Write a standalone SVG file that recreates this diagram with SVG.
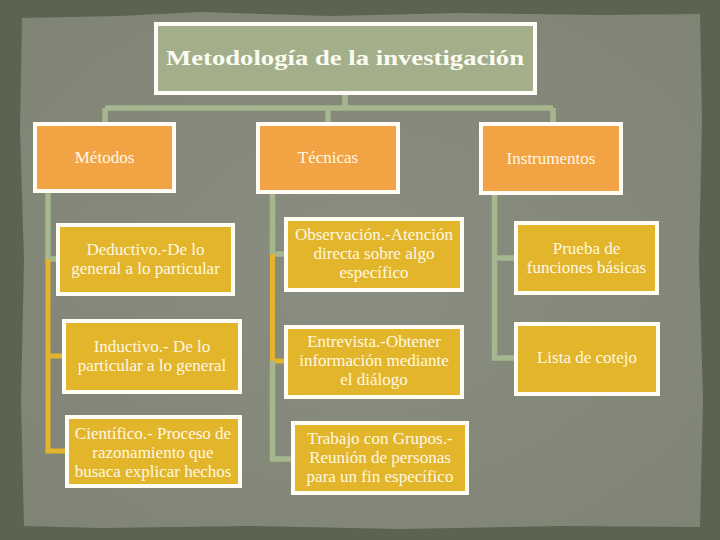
<svg xmlns="http://www.w3.org/2000/svg" width="720" height="540" viewBox="0 0 720 540">
<defs>
<style>
.top{fill:#f2a445;stroke:#fffdf5;stroke-width:4}
.child{fill:#e2b52b;stroke:#fffdf5;stroke-width:4}
.title{fill:#a3af8b;stroke:#fffdf5;stroke-width:4}
.cg{fill:none;stroke:#a6b78f;stroke-width:5.5}
.cm{fill:none;stroke:#e2b52b;stroke-width:5}
text{font-family:"Liberation Serif","DejaVu Serif",serif;fill:#fff8e2;text-anchor:middle;font-size:17px}
.tt{font-size:22px;font-weight:bold;fill:#fbfbf2}
</style>
<radialGradient id="paper" cx="50%" cy="50%" r="70%">
<stop offset="0" stop-color="#8a8e80"/>
<stop offset="1" stop-color="#7f8475"/>
</radialGradient>
</defs>
<rect x="0" y="0" width="720" height="540" fill="#5c634e"/>
<path d="M22 18 L120 16 L200 12 L330 16 L460 13 L600 15 L700 14 L702 120 L699 260 L703 400 L700 527 L560 526 L400 529 L250 526 L100 528 L24 526 L21 400 L24 260 L20 130 Z" fill="url(#paper)"/>
<g id="connectors">
<path class="cg" d="M345 94 V108 M105 108 H553 M105 108 V123 M328 108 V123 M553 108 V123"/>
<path class="cg" d="M48 193 V259 H58"/>
<path class="cm" d="M48 259 V451 H67 M48 356 H64"/>
<path class="cg" d="M272.5 193 V254 H286"/>
<path class="cm" d="M272.5 254 V361 H286"/>
<path class="cg" d="M272.5 361 V459 H293"/>
<path class="cg" d="M494.5 194 V358 H516 M494.5 258 H516"/>
</g>
<g id="title"><rect class="title" x="156" y="24" width="379" height="69"/><text class="tt" x="345" y="65" textLength="358" lengthAdjust="spacingAndGlyphs">Metodología de la investigación</text></g>
<g id="metodos"><rect class="top" x="35" y="124" width="139" height="67"/><text x="104.5" y="163">Métodos</text></g>
<g id="tecnicas"><rect class="top" x="258" y="124" width="140" height="68"/><text x="328" y="163">Técnicas</text></g>
<g id="instrumentos"><rect class="top" x="481" y="124" width="140" height="69"/><text x="551" y="164">Instrumentos</text></g>
<g id="deductivo"><rect class="child" x="58" y="225" width="175" height="69"/><text x="145.5" y="255">Deductivo.-De lo</text><text x="145.5" y="274">general a lo particular</text></g>
<g id="inductivo"><rect class="child" x="64" y="321" width="176" height="71"/><text x="152" y="352">Inductivo.- De lo</text><text x="152" y="371">particular a lo general</text></g>
<g id="cientifico"><rect class="child" x="67" y="417" width="173" height="69"/><text x="153" y="439">Científico.- Proceso de</text><text x="153" y="458">razonamiento que</text><text x="153" y="477">busaca explicar hechos</text></g>
<g id="observacion"><rect class="child" x="286" y="219" width="176" height="71"/><text x="374" y="240">Observación.-Atención</text><text x="374" y="259">directa sobre algo</text><text x="374" y="278">específico</text></g>
<g id="entrevista"><rect class="child" x="286" y="327" width="176" height="70"/><text x="374" y="347">Entrevista.-Obtener</text><text x="374" y="366">información mediante</text><text x="374" y="385">el diálogo</text></g>
<g id="trabajo"><rect class="child" x="293" y="423" width="174" height="70"/><text x="380" y="444">Trabajo con Grupos.-</text><text x="380" y="463">Reunión de personas</text><text x="380" y="482">para un fin específico</text></g>
<g id="prueba"><rect class="child" x="516" y="223" width="141" height="70"/><text x="586.5" y="254">Prueba de</text><text x="586.5" y="273">funciones básicas</text></g>
<g id="lista"><rect class="child" x="516" y="324" width="142" height="70"/><text x="587" y="363">Lista de cotejo</text></g>
</svg>
